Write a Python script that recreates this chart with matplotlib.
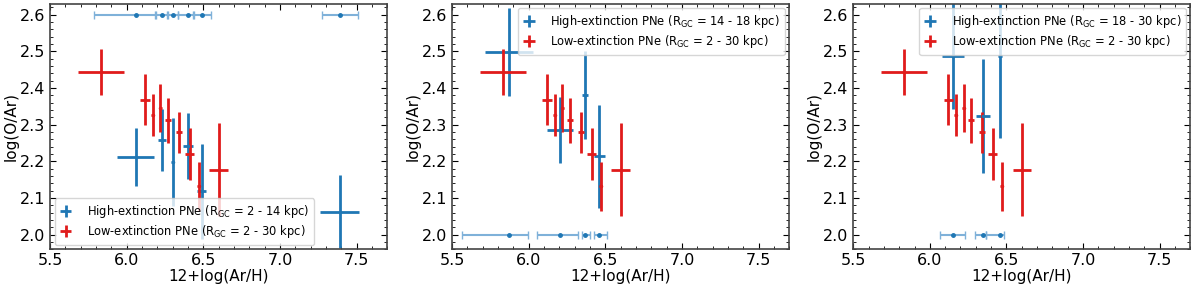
import numpy as np
import matplotlib
matplotlib.use("Agg")
import matplotlib.pyplot as plt

# low-extinction PNe (same in every panel)
low_x = [5.83, 6.12, 6.17, 6.22, 6.27, 6.34, 6.41, 6.47, 6.60]
low_y = [2.444, 2.368, 2.327, 2.345, 2.312, 2.279, 2.220, 2.132, 2.177]
low_xerr = [0.15, 0.03, 0.01, 0.01, 0.02, 0.02, 0.03, 0.01, 0.06]
low_yerr = [0.062, 0.070, 0.057, 0.065, 0.061, 0.055, 0.071, 0.066, 0.127]

# high-extinction PNe, R_GC = 2 - 14 kpc
h1_x = [6.06, 6.23, 6.30, 6.40, 6.49, 7.39]
h1_y = [2.212, 2.258, 2.198, 2.242, 2.118, 2.063]
h1_xerr = [0.12, 0.025, 0.01, 0.035, 0.03, 0.128]
h1_yerr = [0.079, 0.084, 0.12, 0.09, 0.13, 0.10]
h1_row_lo = [0.27, 0.04, 0.034, 0.062, 0.05, 0.118]
h1_row_hi = [0.126, 0.041, 0.033, 0.033, 0.058, 0.12]

# high-extinction PNe, R_GC = 14 - 18 kpc
h2_x = [5.87, 6.206, 6.368, 6.461]
h2_y = [2.498, 2.286, 2.380, 2.214]
h2_xerr = [0.157, 0.085, 0.02, 0.035]
h2_yerr = [0.12, 0.09, 0.12, 0.14]
h2_row_lo = [0.305, 0.15, 0.019, 0.037]
h2_row_hi = [0.128, 0.115, 0.033, 0.048]

# high-extinction PNe, R_GC = 18 - 30 kpc
h3_x = [6.151, 6.346, 6.457]
h3_y = [2.488, 2.323, 2.488]
h3_xerr = [0.07, 0.048, 0.015]
h3_yerr = [0.145, 0.155, 0.225]
h3_row_lo = [0.082, 0.049, 0.089]
h3_row_hi = [0.076, 0.022, 0.024]

panels = [
    (h1_x, h1_y, h1_xerr, h1_yerr, h1_row_lo, h1_row_hi, 2.6, "2 - 14", "lower left"),
    (h2_x, h2_y, h2_xerr, h2_yerr, h2_row_lo, h2_row_hi, 2.0, "14 - 18", "upper right"),
    (h3_x, h3_y, h3_xerr, h3_yerr, h3_row_lo, h3_row_hi, 2.0, "18 - 30", "upper right"),
]

blue = "#1f77b4"
red = "#e01b1b"

fig = plt.figure(figsize=(12, 2.84), dpi=100)
lefts = [0.0417, 0.3767, 0.711]

for left, (hx, hy, hxe, hye, rlo, rhi, rowy, rgc, loc) in zip(lefts, panels):
    ax = fig.add_axes([left, 0.1215, 0.281, 0.866])
    ax.errorbar(hx, hy, xerr=hxe, yerr=hye, fmt=".", ms=3, color=blue, lw=2,
                label=r"High-extinction PNe (R$_{\rm GC}$ = " + rgc + " kpc)")
    ax.errorbar(low_x, low_y, xerr=low_xerr, yerr=low_yerr, fmt=".", ms=3, color=red, lw=2,
                label=r"Low-extinction PNe (R$_{\rm GC}$ = 2 - 30 kpc)")
    ax.errorbar(hx, [rowy] * len(hx), xerr=[rlo, rhi], fmt="none", ecolor="#7fb1d9",
                elinewidth=1.5, capsize=3, capthick=1)
    ax.plot(hx, [rowy] * len(hx), ".", ms=5, color=blue)

    ax.set_xlim(5.5, 7.7)
    ax.set_ylim(1.96, 2.63)
    ax.set_xticks([5.5, 6.0, 6.5, 7.0, 7.5])
    ax.set_yticks([2.0, 2.1, 2.2, 2.3, 2.4, 2.5, 2.6])
    ax.minorticks_on()
    ax.tick_params(which="both", direction="in", top=True, right=True, labelsize=11.5)
    ax.tick_params(axis="x", pad=2.5)
    ax.tick_params(which="major", length=4)
    ax.tick_params(which="minor", length=2)
    for sp in ax.spines.values():
        sp.set_color("#444444")
        sp.set_linewidth(1.2)
    ax.set_xlabel("12+log(Ar/H)", fontsize=11, labelpad=0.5)
    ax.set_ylabel("log(O/Ar)", fontsize=11, labelpad=1)
    ax.legend(loc=loc, fontsize=8.3, handlelength=1.1, handletextpad=1.3,
              borderpad=0.4, labelspacing=0.3, borderaxespad=0.4)

fig.savefig("out.png", dpi=100)
